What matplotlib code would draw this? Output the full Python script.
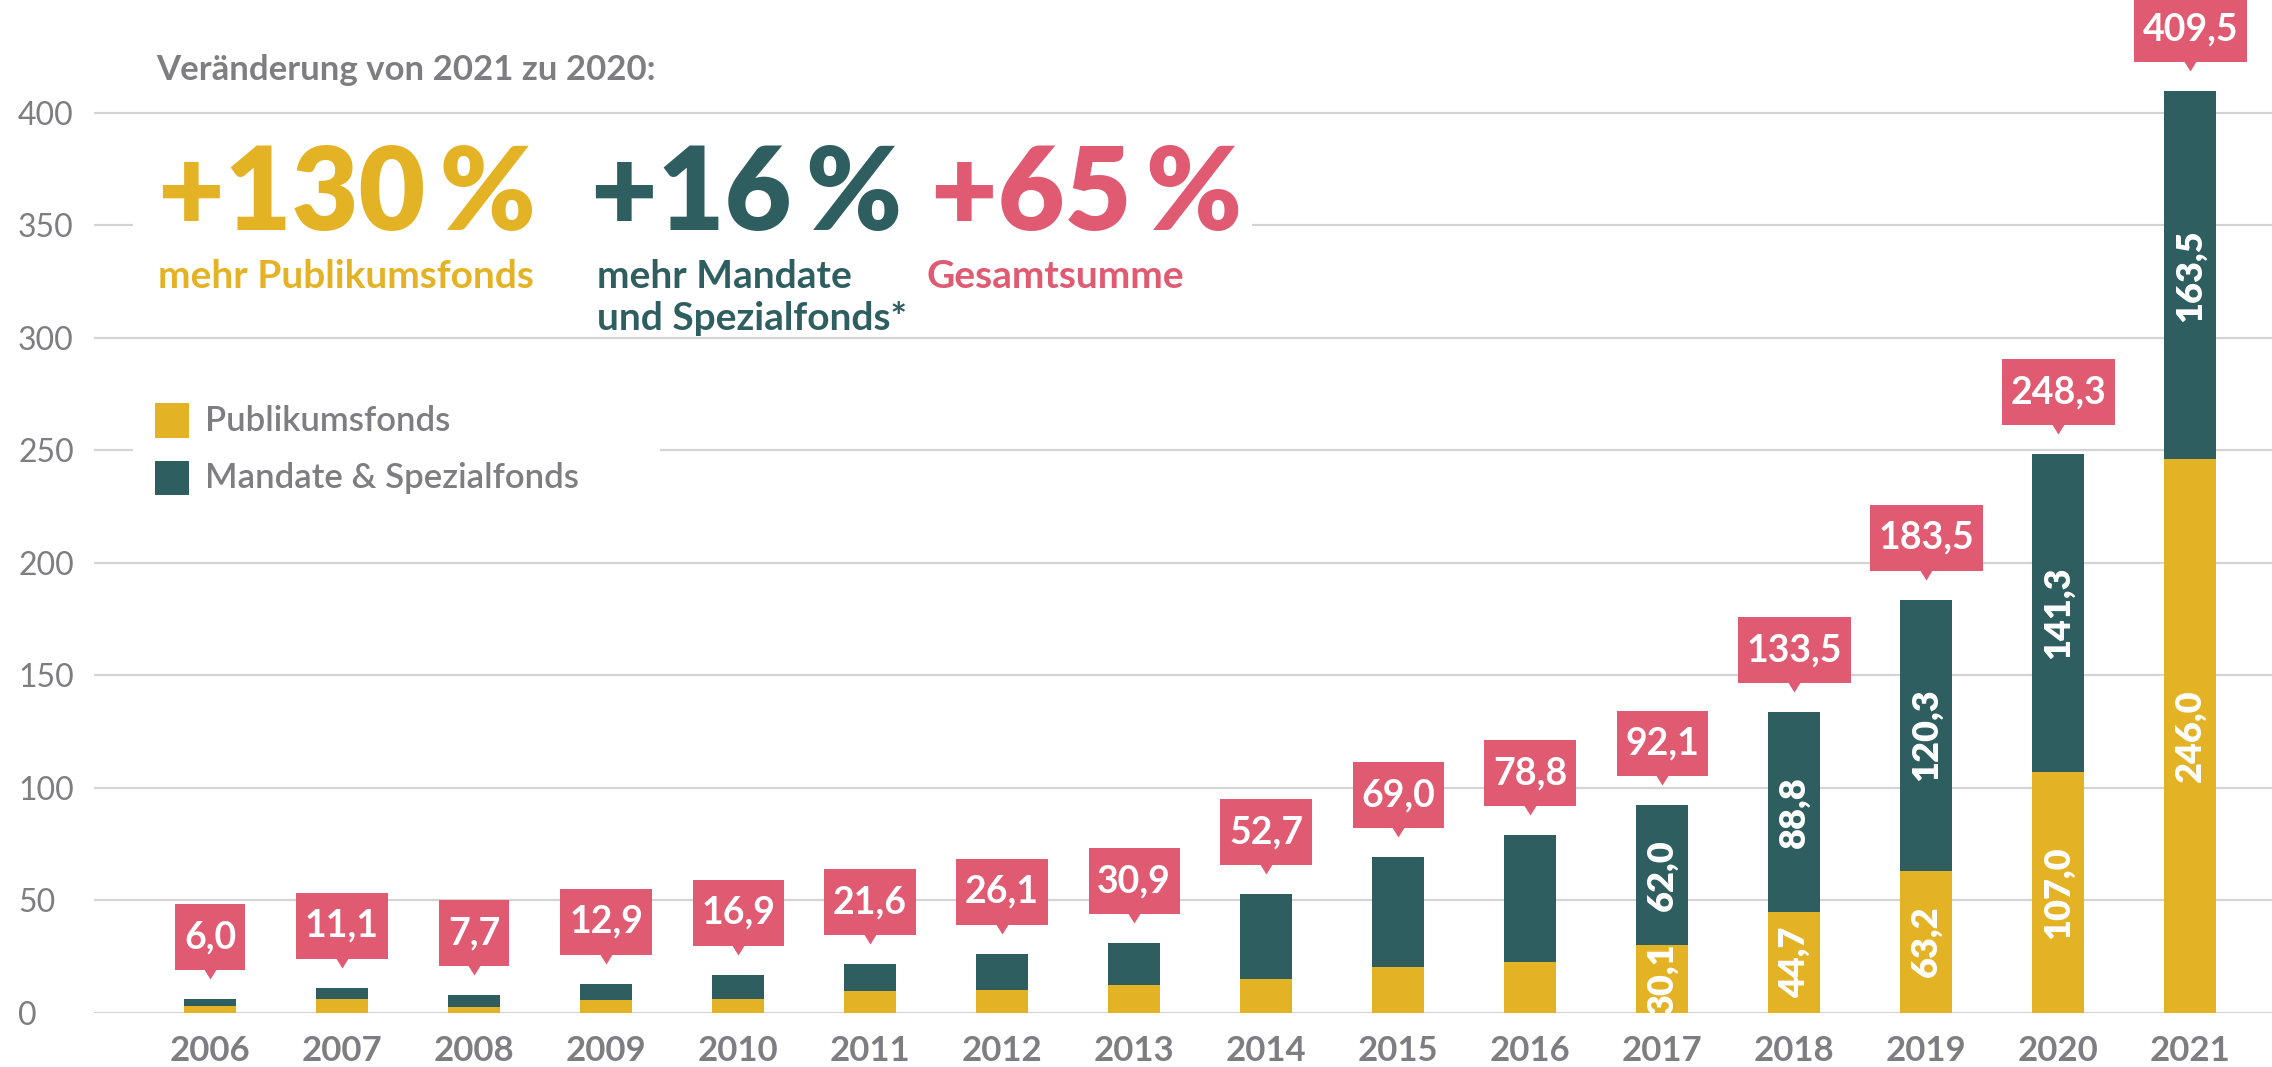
import matplotlib
matplotlib.use("Agg")
import matplotlib.pyplot as plt
from matplotlib.patches import Rectangle
from matplotlib.transforms import ScaledTranslation
from matplotlib.path import Path

plt.rcParams['font.family'] = ['Lato', 'DejaVu Sans']

# data (Mrd. Euro)
years = [2006, 2007, 2008, 2009, 2010, 2011, 2012, 2013,
         2014, 2015, 2016, 2017, 2018, 2019, 2020, 2021]
publikumsfonds = [2.8, 6.0, 2.6, 5.8, 6.1, 9.8, 9.9, 12.4,
                  15.2, 20.2, 22.7, 30.1, 44.7, 63.2, 107.0, 246.0]
mandate = [3.2, 5.1, 5.1, 7.1, 10.8, 11.8, 16.2, 18.5,
           37.5, 48.8, 56.1, 62.0, 88.8, 120.3, 141.3, 163.5]
totals = [6.0, 11.1, 7.7, 12.9, 16.9, 21.6, 26.1, 30.9,
          52.7, 69.0, 78.8, 92.1, 133.5, 183.5, 248.3, 409.5]
labelled_from = 2017
yticks = [0, 50, 100, 150, 200, 250, 300, 350, 400]

YELLOW = '#E4B325'
TEAL = '#2F5E60'
PINK = '#E05A72'
GRAY = '#7E7E82'
GRID = '#D4D4D4'

W, H = 2272, 1067


def fx(px):
    return px / W


def fy(py):
    return 1 - py / H


def fmt(v):
    return f"{v:.1f}".replace('.', ',')


fig = plt.figure(figsize=(W / 100, H / 100), dpi=100)
ax = fig.add_axes([fx(94), fy(1012.7), 1 - fx(94), 1012.7 / H])

xs = list(range(len(years)))
ax.bar(xs, publikumsfonds, width=0.395, color=YELLOW, zorder=2)
ax.bar(xs, mandate, bottom=publikumsfonds, width=0.395, color=TEAL, zorder=2)

ax.set_xlim(-0.879, 15.62)
ax.set_ylim(0, 450.1)
ax.set_yticks(yticks, [str(v) for v in yticks], ha='left')
ax.set_xticks(xs, [str(y) for y in years], fontweight='bold')
ax.grid(axis='y', color=GRID, lw=1.6)
ax.set_axisbelow(True)
for s in ax.spines.values():
    s.set_visible(False)
ax.tick_params(length=0)
ax.tick_params(axis='y', pad=54.7, labelsize=23, labelcolor=GRAY)
ax.tick_params(axis='x', pad=16, labelsize=25, labelcolor=GRAY)

# callouts with the totals
tri = Path([(-10, 0), (10, 0), (0, -16), (-10, 0)])
lift = ScaledTranslation(0, 36 / 100, fig.dpi_scale_trans)
for i, t in enumerate(totals):
    top = publikumsfonds[i] + mandate[i]
    ax.plot(i, top, marker=tri, ms=23, color=PINK, mec='none',
            transform=ax.transData + lift, clip_on=False, zorder=4)
    ax.annotate(fmt(t), (i, top), xytext=(0, 62), textcoords='offset pixels',
                ha='center', va='center', color='white', fontsize=27,
                fontweight='bold', zorder=5, annotation_clip=False,
                bbox=dict(boxstyle='square,pad=0.23', mutation_aspect=1.85,
                          fc=PINK, ec='none'))

# values inside the bars
for i, yr in enumerate(years):
    if yr < labelled_from:
        continue
    p, m = publikumsfonds[i], mandate[i]
    ax.text(i, p / 2, fmt(p), rotation=90, ha='center', va='center',
            color='white', fontsize=26, fontweight='heavy', zorder=3)
    ax.text(i, p + m / 2, fmt(m), rotation=90, ha='center', va='center',
            color='white', fontsize=26, fontweight='heavy', zorder=3)

# white areas behind headline and legend
fig.add_artist(Rectangle((fx(133), fy(318)), (1252 - 133) / W, (318 - 125) / H,
                         transform=fig.transFigure, fc='white', ec='none', zorder=1))
fig.add_artist(Rectangle((fx(133), fy(515)), (660 - 133) / W, (515 - 382) / H,
                         transform=fig.transFigure, fc='white', ec='none', zorder=1))

fig.text(fx(156), fy(80), "Veränderung von 2021 zu 2020:", va='baseline',
         fontsize=25, fontweight='bold', color=GRAY)

fig.text(fx(158), fy(230), "+130\u2009%", va='baseline', fontsize=83,
         fontweight='heavy', color=YELLOW)
fig.text(fx(591), fy(230), "+16\u2009%", va='baseline', fontsize=83,
         fontweight='heavy', color=TEAL)
fig.text(fx(931), fy(230), "+65\u2009%", va='baseline', fontsize=83,
         fontweight='heavy', color=PINK)

fig.text(fx(158), fy(288), "mehr Publikumsfonds", va='baseline', fontsize=28,
         fontweight='bold', color=YELLOW)
fig.text(fx(597), fy(288), "mehr Mandate", va='baseline', fontsize=28,
         fontweight='bold', color=TEAL)
fig.text(fx(597), fy(330), "und Spezialfonds*", va='baseline', fontsize=28,
         fontweight='bold', color=TEAL)
fig.text(fx(927), fy(288), "Gesamtsumme", va='baseline', fontsize=28,
         fontweight='bold', color=PINK)

# legend
fig.add_artist(Rectangle((fx(155), fy(438)), 34 / W, 35 / H,
                         transform=fig.transFigure, fc=YELLOW, ec='none', zorder=2))
fig.add_artist(Rectangle((fx(155), fy(495)), 34 / W, 34 / H,
                         transform=fig.transFigure, fc=TEAL, ec='none', zorder=2))
fig.text(fx(205), fy(421), "Publikumsfonds", va='center', fontsize=25,
         fontweight='semibold', color=GRAY)
fig.text(fx(205), fy(478), "Mandate & Spezialfonds", va='center', fontsize=25,
         fontweight='semibold', color=GRAY)

fig.savefig('out.png', dpi=100)
